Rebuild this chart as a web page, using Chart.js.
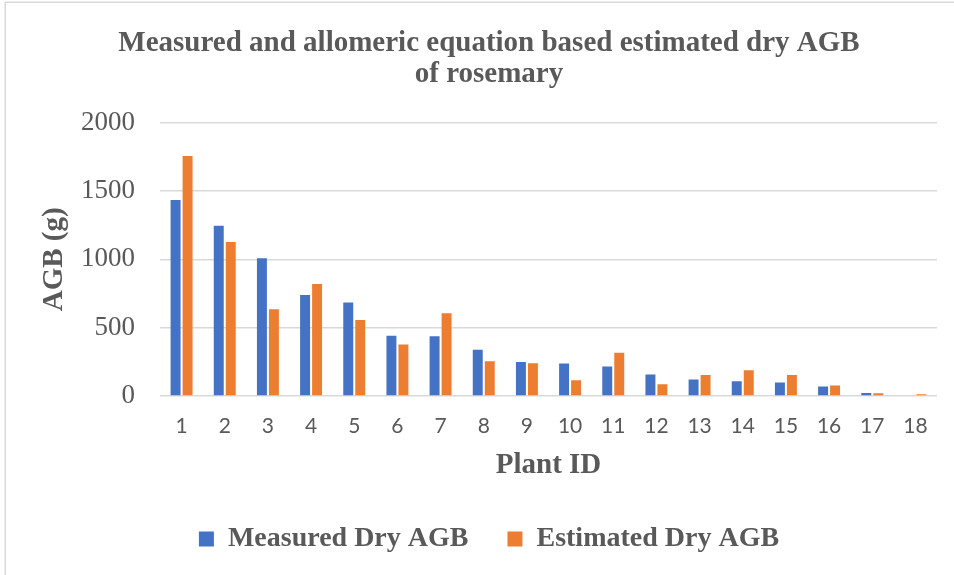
<!DOCTYPE html>
<html>
<head>
<meta charset="utf-8">
<script src="https://cdn.jsdelivr.net/npm/chart.js@4"></script>
<style>
  html, body { margin: 0; padding: 0; background: #ffffff; }
  #wrap { width: 954px; height: 575px; position: relative; }
</style>
</head>
<body>
<div id="wrap"><canvas id="agb" width="954" height="575"></canvas></div>
<script>
// Plant IDs and dry above-ground biomass (g) for each rosemary plant
const plantIds = ['1','2','3','4','5','6','7','8','9','10','11','12','13','14','15','16','17','18'];
const measuredDryAGB = [1434, 1246, 1007, 739, 683, 441, 437, 339, 249, 238, 216, 157, 120, 108, 98, 69, 22, 5];
const estimatedDryAGB = [1756, 1127, 634, 820, 556, 376, 605, 254, 239, 115, 316, 86, 154, 189, 154, 76, 20, 12];
const yTickValues = [0, 500, 1000, 1500, 2000];

const GREY = '#595959';
const SERIF = '"Liberation Serif", "DejaVu Serif", serif';

// Light frame around the chart
const framePlugin = {
  id: 'frame',
  beforeDraw(chart) {
    const ctx = chart.ctx;
    ctx.save();
    ctx.fillStyle = '#ffffff';
    ctx.fillRect(0, 0, chart.width, chart.height);
    ctx.strokeStyle = '#d9d9d9';
    ctx.lineWidth = 1.5;
    ctx.strokeRect(5.25, 2.25, chart.width + 20, chart.height + 20);
    ctx.restore();
  }
};

new Chart(document.getElementById('agb'), {
  type: 'bar',
  data: {
    labels: plantIds,
    datasets: [
      { label: 'Measured Dry AGB', data: measuredDryAGB, backgroundColor: '#4472C4',
        barPercentage: 0.83, categoryPercentage: 0.556 },
      { label: 'Estimated Dry AGB', data: estimatedDryAGB, backgroundColor: '#ED7D31',
        barPercentage: 0.83, categoryPercentage: 0.556 }
    ]
  },
  options: {
    responsive: false,
    animation: false,
    devicePixelRatio: 1,
    layout: { padding: { left: 41, right: 17, top: 3, bottom: 12 } },
    plugins: {
      title: {
        display: true,
        text: ['Measured and allomeric equation based estimated dry AGB', 'of rosemary'],
        color: GREY,
        font: { family: SERIF, size: 29, weight: 'bold', lineHeight: 1.07 },
        padding: { top: 25, bottom: 32.5 }
      },
      legend: {
        position: 'bottom',
        labels: {
          color: GREY,
          font: { family: SERIF, size: 28, weight: 'bold' },
          boxWidth: 15,
          boxHeight: 15,
          padding: 39
        }
      },
      tooltip: { enabled: false }
    },
    scales: {
      x: {
        grid: { display: false, drawTicks: false },
        border: { display: false },
        ticks: { color: GREY, font: { family: 'Lato, "Open Sans", sans-serif', size: 21 }, padding: 18, maxRotation: 0 },
        title: {
          display: true, text: 'Plant ID', color: GREY,
          font: { family: SERIF, size: 29, weight: 'bold', lineHeight: 1.2 },
          padding: { top: 0, bottom: 2.6 }
        },
        afterFit(scale) { scale.height = 90; }
      },
      y: {
        min: 0,
        max: 2000,
        afterBuildTicks(scale) { scale.ticks = yTickValues.map(v => ({ value: v })); },
        grid: { color: '#d9d9d9', lineWidth: 1.5, drawTicks: false },
        border: { display: false },
        ticks: { color: GREY, font: { family: SERIF, size: 27 }, padding: 25,
                 callback: (v) => String(v) },
        title: {
          display: true, text: 'AGB (g)', color: GREY,
          font: { family: SERIF, size: 29, weight: 'bold', lineHeight: 1 },
          padding: { top: -0.5, bottom: 0 }
        },
        afterFit(scale) { scale.width = 119; }
      }
    }
  },
  plugins: [framePlugin]
});
</script>
</body>
</html>
